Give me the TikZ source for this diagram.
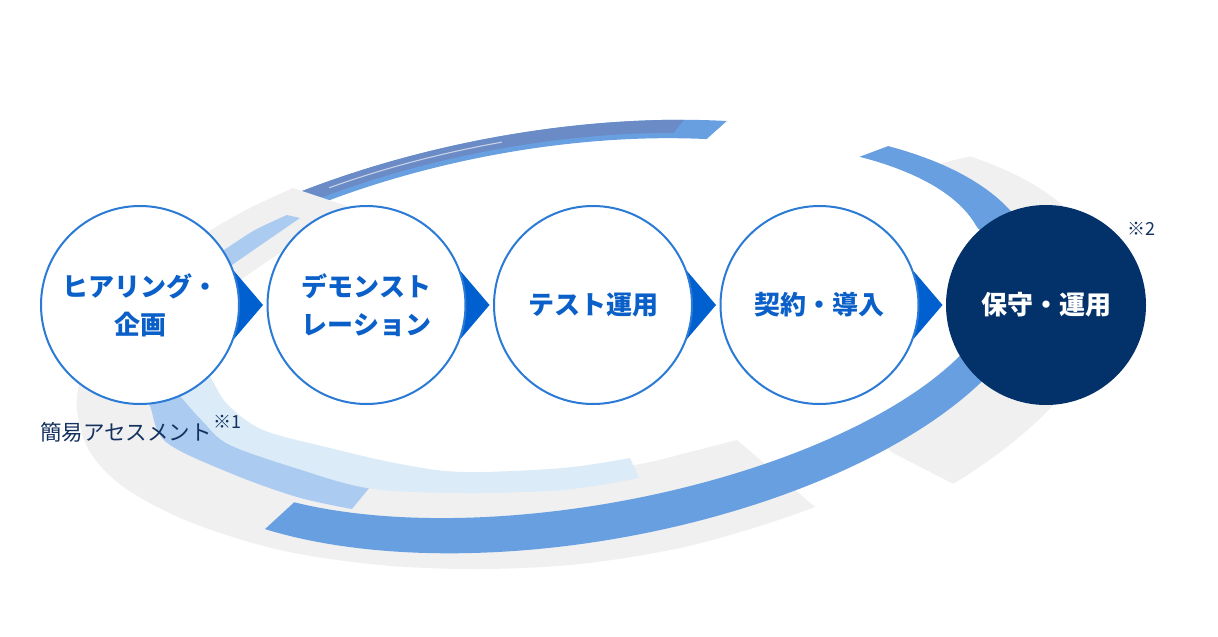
\documentclass[tikz,border=0pt]{standalone}
\usepackage{fontspec}
\setmainfont{Noto Sans CJK JP}
\usetikzlibrary{calc}
\definecolor{ring}{RGB}{240,240,240}
\definecolor{bandblue}{RGB}{103,159,225}
\definecolor{topdark}{RGB}{106,139,198}
\definecolor{lbblue}{RGB}{172,203,240}
\definecolor{vlbblue}{RGB}{219,235,247}
\definecolor{circblue}{RGB}{42,122,214}
\definecolor{triblue}{RGB}{0,96,208}
\definecolor{txtblue}{RGB}{10,96,200}
\definecolor{navy}{RGB}{3,49,106}
\definecolor{notecol}{RGB}{20,50,95}
\definecolor{hilite}{RGB}{200,210,228}
\begin{document}
\begin{tikzpicture}[x=1pt,y=-1pt,
  declare function={
    ex(\t,\a,\b)=585+\a*cos(\t)*0.9848-\b*sin(\t)*0.1736;
    ey(\t,\a,\b)=340-\a*cos(\t)*0.1736-\b*sin(\t)*0.9848;
    so(\t)=1.027+0.0018*(\t-68);
    si(\t)=0.942+0.00183*(\t-69);
    sg(\t)=1.083-0.00231*(\t-23);
    sb(\t)=1+0.0024*max(\t-15,0);
  },
  stage/.style={circle, draw=circblue, line width=2pt, fill=white, minimum size=198pt,
    inner sep=0pt, align=center, text=txtblue, font=\fontsize{26}{38}\selectfont\bfseries},
  laststage/.style={stage, draw=navy, fill=navy, text=white},
  arrowtri/.style={fill=triblue},
  note/.style={anchor=west, inner sep=0pt, text=notecol},
  smooth band/.style={smooth, tension=0.55}]
\useasboundingbox (0,0) rectangle (1218,637);
\fill[white] (0,0) rectangle (1218,637);

% centres of the stages
\coordinate (p1) at (140,305);
\coordinate (p2) at (366.5,305);
\coordinate (p3) at (593,305);
\coordinate (p4) at (819.5,305);
\coordinate (p5) at (1046,305);

% ---- top arc (spiral piece) ----
\fill[bandblue]
  plot[domain=125:67.8, samples=50] ({ex(\x,458*so(\x),201*so(\x))},{ey(\x,458*so(\x),201*so(\x))})
  -- plot[domain=69:125, samples=50] ({ex(\x,458*si(\x),201*si(\x))},{ey(\x,458*si(\x),201*si(\x))}) -- cycle;
\fill[topdark]
  plot[domain=125:73.4, samples=50] ({ex(\x,458*so(\x),201*so(\x))},{ey(\x,458*so(\x),201*so(\x))})
  -- plot[domain=74:125, samples=50] ({ex(\x,458*(si(\x)+0.025),201*(si(\x)+0.025))},{ey(\x,458*(si(\x)+0.025),201*(si(\x)+0.025))}) -- cycle;
\draw[hilite, line width=1.1pt]
  plot[domain=117:95.7, samples=30] ({ex(\x,229*(so(\x)+si(\x)+0.025),100.5*(so(\x)+si(\x)+0.025))},{ey(\x,229*(so(\x)+si(\x)+0.025),100.5*(so(\x)+si(\x)+0.025))});

% ---- big grey ring (left / bottom) ----
\fill[ring] plot[smooth band] coordinates {(293,188) (250,208) (208,232) (150,272) (105,325) (82,375) (77,410) (90,452) (125,488) (190,522) (280,550) (380,565) (480,569) (580,564) (680,548) (760,526) (815,507)}
  -- plot[smooth band] coordinates {(737,440) (690,452) (640,464) (560,475) (463,478) (400,470) (300,450) (225,415) (195,375) (190,330) (210,300) (240,280) (278,254) (315,228) (347,206)} -- cycle;

% ---- grey ring (right, spiral piece) ----
\fill[ring]
  plot[domain=32.3:-54.2, samples=60] ({ex(\x,458*sg(\x),201*sg(\x))},{ey(\x,458*sg(\x),201*sg(\x))})
  -- (893,453)
  -- plot[domain=-52:34, samples=60] ({ex(\x,444,195)},{ey(\x,444,195)})
  -- (938,164) -- cycle;

% ---- light blue band ----
\fill[lbblue] plot[smooth band] coordinates {(287,215) (255,230) (227,248) (200,265) (160,295) (135,335) (138,372) (150,406) (166,442) (230,473) (297,497) (352,509)}
  -- plot[smooth band] coordinates {(370,487) (297,467) (230,443) (205,420) (187,400) (175,385) (168,355) (180,320) (215,278) (232,265) (300,218)} -- cycle;

% ---- very light blue band ----
\fill[vlbblue] plot[smooth band] coordinates {(163,350) (173,386) (185,401.5) (203,421.5) (229,444.5) (297,468.5) (370,488.5) (463,493) (563,490) (639,478)}
  -- plot[smooth band] coordinates {(630,458) (563,468) (463,472) (400,464) (330,448) (263,430) (228,405) (212,380) (195,350)} -- cycle;

% ---- main blue band ----
\fill[bandblue]
  plot[domain=43.5:-139.45, samples=110] ({ex(\x,458,201)},{ey(\x,458,201)})
  -- plot[domain=-138.5:48.2, samples=110] ({ex(\x,420*sb(\x),165*sb(\x))},{ey(\x,420*sb(\x),165*sb(\x))}) -- cycle;

% ---- arrow triangles between the stages ----
\foreach \c in {p1,p2,p3,p4}{
  \fill[arrowtri] ($(\c)+(94,-34)$) -- ($(\c)+(123,0)$) -- ($(\c)+(94,34)$) -- cycle;
}

% ---- stages ----
\node[stage] (s1) at (p1) {ヒアリング・\\企画};
\node[stage] (s2) at (p2) {デモンスト\\レーション};
\node[stage] (s3) at (p3) {テスト運用};
\node[stage] (s4) at (p4) {契約・導入};
\node[laststage] (s5) at (p5) {保守・運用};

% ---- notes ----
\node[note, font=\fontsize{21.5}{26}\selectfont] (n1) at (40,432) {簡易アセスメント};
\node[note, font=\fontsize{18}{20}\selectfont] (r1) at (213,422) {※1};
\node[note, font=\fontsize{18}{20}\selectfont] (r2) at (1127,229) {※2};
\end{tikzpicture}
\end{document}
